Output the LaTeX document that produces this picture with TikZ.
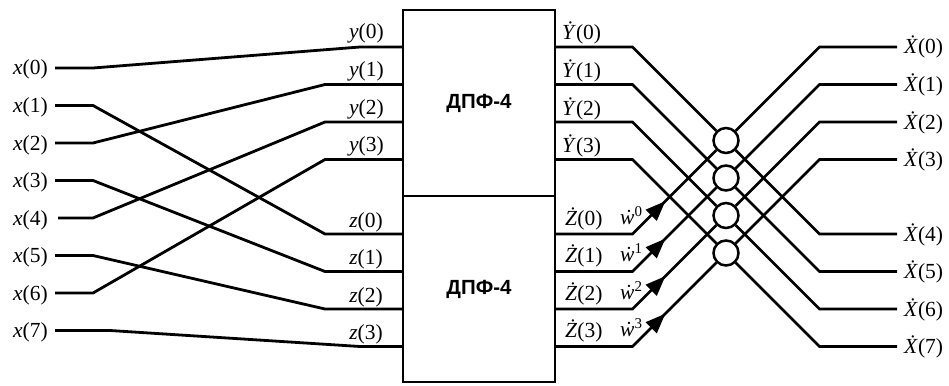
\documentclass[tikz,border=0pt]{standalone}
\usepackage{fontspec}
\setmainfont{Liberation Serif}
\newfontfamily\boxfont{Liberation Sans}
\usetikzlibrary{arrows.meta,decorations.markings,calc}

\newcommand\wexp[1]{\raisebox{8pt}{\fontsize{15}{15}\selectfont #1}}

\begin{document}
\begin{tikzpicture}[x=1pt,y=-1pt,
  wire/.style={line width=2.8pt, line join=miter},
  dftbox/.style={draw, line width=2.9pt, minimum width=152pt, inner sep=0pt,
    font=\boxfont\bfseries\fontsize{20.5}{24}\selectfont},
  lbl/.style={inner sep=0pt, font=\fontsize{21.5}{24}\selectfont},
  junction/.style={circle, draw, fill=white, line width=2.5pt, minimum size=25pt, inner sep=0pt},
  weighted/.style={wire, postaction={decorate},
    decoration={markings, mark=at position 124pt with {\arrow{Triangle[length=20pt,width=15pt]}}}}
]
\useasboundingbox (0,0) rectangle (949,385);

% the two 4-point DFT blocks
\node[dftbox, minimum height=186pt] (dftA) at (479,103) {ДПФ-4};
\node[dftbox, minimum height=186pt] (dftB) at (479,289) {ДПФ-4};

% block pins and their labels
\foreach \k in {0,...,3} {
  \coordinate (yin\k)  at (403,{47+37.5*\k});
  \coordinate (zin\k)  at (403,{234+37.5*\k});
  \coordinate (yout\k) at (555,{47+37.5*\k});
  \coordinate (zout\k) at (555,{234+37.5*\k});
  \node[lbl, anchor=base east] (ylab\k) at (384,{39+37.5*\k}) {\textit{y}(\k)};
  \node[lbl, anchor=base east] (zlab\k) at (383,{227+37.5*\k}) {\textit{z}(\k)};
  \node[lbl, anchor=base west] (Ylab\k) at (562,{40+37.5*\k}) {\textit{Ẏ}(\k)};
  \node[lbl, anchor=base west] (Zlab\k) at (565,{225+37.5*\k}) {\textit{Ż}(\k)};
}

% inputs x(0)..x(7) and the even/odd split
\foreach \i in {0,...,7} {
  \node[lbl, anchor=base east] (x\i) at (48,{75+37.5*\i}) {\textit{x}(\i)};
}
\foreach \i/\t/\sx/\bx/\kx in {0/yin0/55/93/360, 1/zin0/55/93/325,
    2/yin1/55/93/325, 3/zin1/55/93/325, 4/yin2/58/93/325, 5/zin2/55/93/325,
    6/yin3/55/93/325, 7/zin3/55/110/360} {
  \coordinate (xs\i) at (\sx,{68+37.5*\i});
  \coordinate (xb\i) at (\bx,{68+37.5*\i});
  \coordinate (xk\i) at ($(\t)+({\kx-403},0)$);
  \draw[wire] (xs\i) -- (xb\i) -- (xk\i) -- (\t);
}

% output butterflies
\foreach \k in {0,...,3} {
  \pgfmathtruncatemacro\kk{\k+4}
  \node[junction] (c\k) at (726,{140.5+37.5*\k}) {};
  \coordinate (yk\k) at (632.5,{47+37.5*\k});
  \coordinate (zk\k) at (632.5,{234+37.5*\k});
  \coordinate (ok\k)  at (819.5,{47+37.5*\k});
  \coordinate (oe\k)  at (897,{47+37.5*\k});
  \coordinate (ok\kk) at (819.5,{234+37.5*\k});
  \coordinate (oe\kk) at (897,{234+37.5*\k});
  \draw[wire] (yout\k) -- (yk\k) -- (c\k);
  \draw[weighted] (zout\k) -- (zk\k) -- (c\k);
  \draw[wire] (c\k) -- (ok\kk) -- (oe\kk);
  \draw[wire] (c\k) -- (ok\k) -- (oe\k);
  \node[lbl, anchor=base west] (w\k) at (620,{224+37.5*\k}) {\textit{ẇ}\wexp{\k}};
}

% outputs X(0)..X(7)
\foreach \i in {0,...,3} {
  \pgfmathtruncatemacro\ii{\i+4}
  \node[lbl, anchor=base west] (X\i)  at (904,{54+37.5*\i}) {\textit{Ẋ}(\i)};
  \node[lbl, anchor=base west] (X\ii) at (904,{241+37.5*\i}) {\textit{Ẋ}(\ii)};
}
\end{tikzpicture}
\end{document}
